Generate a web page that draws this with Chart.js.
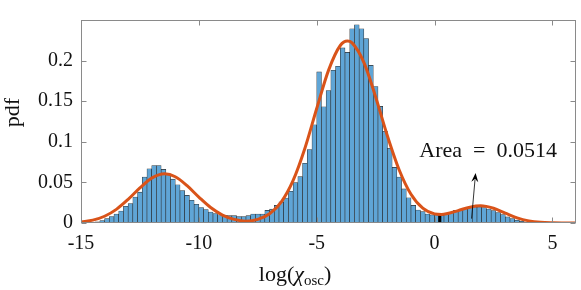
<!DOCTYPE html>
<html>
<head>
<meta charset="utf-8">
<script src="https://cdn.jsdelivr.net/npm/chart.js@4.4.0/dist/chart.umd.min.js"></script>
<style>
  html, body { margin: 0; padding: 0; background: #fff; }
</style>
</head>
<body>
<canvas id="hist" width="581" height="290"></canvas>
<script>
// histogram: bins of 0.2 starting at -15
const binStart = -15;
const binWidth = 0.2;
const pdfValues = [
  0, 0.0003, 0.0008, 0.0015, 0.003, 0.0053, 0.008, 0.011, 0.0148, 0.0205,
  0.024, 0.032, 0.038, 0.0565, 0.0667, 0.0708, 0.0708, 0.066, 0.060, 0.054,
  0.047, 0.040, 0.034, 0.028, 0.023, 0.019, 0.0165, 0.0135, 0.0117, 0.0102,
  0.0095, 0.009, 0.009, 0.008, 0.008, 0.009, 0.011, 0.011, 0.011, 0.0155,
  0.017, 0.0216, 0.026, 0.0307, 0.039, 0.0497, 0.057, 0.0735, 0.0905, 0.121,
  0.186, 0.143, 0.163, 0.188, 0.193, 0.2155, 0.21, 0.239, 0.244, 0.239,
  0.227, 0.194, 0.168, 0.1435, 0.113, 0.092, 0.0685, 0.0565, 0.042, 0.031,
  0.0216, 0.016, 0.014, 0.011, 0.010, 0.009, 0.0095, 0.0105, 0.0127, 0.0155,
  0.0168, 0.0178, 0.019, 0.0198, 0.0198, 0.019, 0.0172, 0.0152, 0.0128, 0.0103,
  0.0075, 0.0055, 0.0035, 0.0022, 0.0012, 0.0006, 0.0003
];

// fitted pdf
const fitX = [-15, -14.5, -14, -13.5, -13, -12.5, -12, -11.45, -11, -10.5,
  -10, -9.5, -9, -8.5, -8, -7.5, -7, -6.5, -6, -5.5,
  -5, -4.5, -4, -3.7, -3.5, -3, -2.5, -2, -1.5, -1,
  -0.5, 0, 0.3, 0.5, 1, 1.5, 1.95, 2.5, 3, 3.5,
  4, 4.5, 5, 5.5, 6];
const fitY = [0.0013, 0.0035, 0.0083, 0.0168, 0.0291, 0.0432, 0.0552, 0.0605, 0.0569, 0.0459,
  0.0319, 0.019, 0.0098, 0.0045, 0.0022, 0.0045, 0.0114, 0.0261, 0.0525, 0.0921,
  0.1409, 0.1879, 0.2185, 0.224, 0.2217, 0.1977, 0.1552, 0.1072, 0.0653, 0.0354,
  0.0182, 0.0112, 0.0106, 0.0113, 0.0153, 0.0195, 0.0211, 0.0181, 0.0121, 0.0063,
  0.0026, 0.0008, 0.0002, 0.00004, 0];

// the dark sliver just right of zero
const darkBin = [{ x: 0.22, y: 0.009 }];

const xTicks = [-15, -10, -5, 0, 5];
const yTicks = [0, 0.05, 0.1, 0.15, 0.2];

const areaText = "Area\u2002=\u20020.0514";
const areaAt = { x: 2.27, y: 0.0815 };
const arrowFrom = { x: 1.57, y: 0.0054 };
const arrowTo = { x: 1.74, y: 0.0615 };

const serif = "'Liberation Serif', 'DejaVu Serif', serif";
Chart.defaults.font.family = serif;
Chart.defaults.color = "#111";

const frame = {
  id: "frame",
  afterDatasetsDraw(chart) {
    const { ctx, scales: { x, y } } = chart;
    ctx.save();
    // arrow
    const x0 = x.getPixelForValue(arrowFrom.x), y0 = y.getPixelForValue(arrowFrom.y);
    const x1 = x.getPixelForValue(arrowTo.x), y1 = y.getPixelForValue(arrowTo.y);
    const ang = Math.atan2(y1 - y0, x1 - x0);
    const hl = 9, hw = 3.5;
    const bx = x1 - hl * Math.cos(ang), by = y1 - hl * Math.sin(ang);
    ctx.strokeStyle = "#000";
    ctx.lineWidth = 0.8;
    ctx.beginPath();
    ctx.moveTo(x0, y0);
    ctx.lineTo(bx + 2 * Math.cos(ang), by + 2 * Math.sin(ang));
    ctx.stroke();
    ctx.fillStyle = "#000";
    ctx.beginPath();
    ctx.moveTo(x1, y1);
    ctx.lineTo(bx + hw * Math.sin(ang), by - hw * Math.cos(ang));
    ctx.lineTo(bx + 3 * Math.cos(ang), by + 3 * Math.sin(ang));
    ctx.lineTo(bx - hw * Math.sin(ang), by + hw * Math.cos(ang));
    ctx.closePath();
    ctx.fill();
    // label
    ctx.font = "22px " + serif;
    ctx.fillStyle = "#111";
    ctx.textAlign = "center";
    ctx.textBaseline = "alphabetic";
    ctx.fillText(areaText, x.getPixelForValue(areaAt.x), y.getPixelForValue(areaAt.y));
    ctx.restore();
  },
  afterDraw(chart) {
    const { ctx, chartArea: a, scales: { x, y } } = chart;
    ctx.save();
    ctx.strokeStyle = "#8a8a8a";
    ctx.lineWidth = 1;
    const L = a.left + 0.5, R = a.right - 0.5, T = a.top + 0.5, B = a.bottom - 0.5;
    ctx.strokeRect(L, T, R - L, B - T);
    ctx.beginPath();
    xTicks.forEach(v => {
      const px = Math.round(x.getPixelForValue(v)) + 0.5;
      ctx.moveTo(px, B); ctx.lineTo(px, B - 5);
      ctx.moveTo(px, T); ctx.lineTo(px, T + 5);
    });
    yTicks.forEach(v => {
      const py = Math.round(y.getPixelForValue(v)) + 0.5;
      ctx.moveTo(L, py); ctx.lineTo(L + 5, py);
      ctx.moveTo(R, py); ctx.lineTo(R - 5, py);
    });
    ctx.stroke();

    // y title
    ctx.fillStyle = "#111";
    ctx.font = "22px " + serif;
    ctx.translate(19, 112.5);
    ctx.rotate(-Math.PI / 2);
    ctx.textAlign = "center";
    ctx.textBaseline = "alphabetic";
    ctx.fillText("pdf", 0, 0);
    ctx.setTransform(1, 0, 0, 1, 0, 0);

    // x title: log(χ_osc)
    const parts = [
      { t: "log(", f: "22px " + serif, dy: 0 },
      { t: "χ", f: "italic 22px " + serif, dy: 0 },
      { t: "osc", f: "15px " + serif, dy: 4 },
      { t: ")", f: "22px " + serif, dy: 0 }
    ];
    let w = 0;
    parts.forEach(p => { ctx.font = p.f; p.w = ctx.measureText(p.t).width; w += p.w; });
    let cx = 295 - w / 2;
    ctx.textAlign = "left";
    parts.forEach(p => {
      ctx.font = p.f;
      ctx.fillText(p.t, cx, 281 + p.dy);
      cx += p.w;
    });
    ctx.restore();
  }
};

new Chart(document.getElementById("hist"), {
  type: "bar",
  data: {
    datasets: [
      {
        type: "line",
        data: fitX.map((v, i) => ({ x: v, y: fitY[i] })),
        borderColor: "#D95319",
        borderWidth: 3,
        pointRadius: 0,
        fill: false,
        cubicInterpolationMode: "monotone",
        order: 0
      },
      {
        type: "bar",
        data: pdfValues.map((v, i) => ({ x: binStart + binWidth * (i + 0.5), y: v })),
        backgroundColor: "#5FA5D6",
        borderColor: "rgba(25,25,25,0.9)",
        borderWidth: 0.6,
        barPercentage: 1,
        categoryPercentage: 1,
        grouped: false,
        order: 2
      },
      {
        type: "bar",
        xAxisID: "x2",
        data: darkBin,
        backgroundColor: "#000",
        barThickness: 2.5,
        grouped: false,
        order: 1
      }
    ]
  },
  options: {
    responsive: false,
    animation: false,
    events: [],
    layout: { padding: { top: 4, right: 5, left: 0, bottom: 0 } },
    plugins: { legend: { display: false }, tooltip: { enabled: false } },
    scales: {
      x: {
        type: "linear",
        min: -15,
        max: 6,
        offset: false,
        grid: { display: false, drawTicks: false, tickLength: 0 },
        border: { display: false },
        ticks: {
          padding: 9,
          font: { size: 20 },
          color: "#111",
          maxRotation: 0,
          autoSkip: false,
          callback: v => String(v)
        },
        afterBuildTicks: s => { s.ticks = xTicks.map(v => ({ value: v })); },
        afterFit: s => { s.height = 67; }
      },
      x2: {
        type: "linear",
        min: -15,
        max: 6,
        offset: false,
        display: false
      },
      y: {
        min: 0,
        max: 0.2499,
        grid: { display: false, drawTicks: false, tickLength: 0 },
        border: { display: false },
        ticks: {
          padding: 8,
          font: { size: 20 },
          color: "#111",
          callback: v => String(+v.toFixed(2))
        },
        afterBuildTicks: s => { s.ticks = yTicks.map(v => ({ value: v })); },
        afterFit: s => { s.width = 81; }
      }
    }
  },
  plugins: [frame]
});
</script>
</body>
</html>
